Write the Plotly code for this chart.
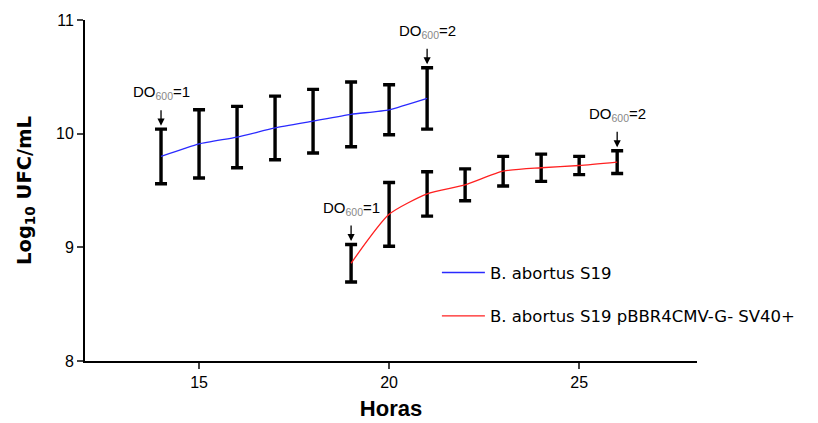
import plotly.graph_objects as go

hours_s19 = [14, 15, 16, 17, 18, 19, 20, 21]
mean_s19 = [9.80, 9.91, 9.97, 10.05, 10.11, 10.17, 10.21, 10.31]
err_s19 = [0.24, 0.30, 0.27, 0.28, 0.28, 0.285, 0.22, 0.27]

hours_rec = [19, 20, 21, 22, 23, 24, 25, 26]
mean_rec = [8.86, 9.29, 9.47, 9.55, 9.67, 9.70, 9.72, 9.75]
err_rec = [0.165, 0.28, 0.195, 0.14, 0.13, 0.12, 0.08, 0.10]

name_s19 = "B. abortus S19"
name_rec = "B. abortus S19 pBBR4CMV-G- SV40+"

# DO600 marks: (series key, point index, label)
marks = [("s19", 0, "1"), ("s19", 7, "2"), ("rec", 0, "1"), ("rec", 7, "2")]

FONT = "Liberation Sans, Arial, sans-serif"
WIDE = "DejaVu Sans, sans-serif"

fig = go.Figure()
fig.add_trace(go.Scatter(
    x=hours_s19, y=mean_s19, mode="lines", name=name_s19,
    line=dict(color="#2a2aff", width=1.3, shape="spline", smoothing=0.5),
    error_y=dict(type="data", array=err_s19, color="black", thickness=3.4, width=6),
    legendgroup="a",
))
fig.add_trace(go.Scatter(
    x=hours_rec, y=mean_rec, mode="lines", name=name_rec,
    line=dict(color="#ff2020", width=1.3, shape="spline", smoothing=0.6),
    error_y=dict(type="data", array=err_rec, color="black", thickness=3.4, width=6),
    legendgroup="b",
))

annos = []
data = {"s19": (hours_s19, mean_s19, err_s19), "rec": (hours_rec, mean_rec, err_rec)}
for key, i, lab in marks:
    xs, ms, es = data[key]
    top = ms[i] + es[i] + 0.03
    annos.append(dict(
        x=xs[i], y=top, xref="x", yref="y", text="", showarrow=True,
        arrowhead=2, arrowsize=1.1, arrowwidth=1.3, arrowcolor="black",
        ax=0, ay=-17, standoff=0,
    ))
    annos.append(dict(
        x=xs[i], y=top, xref="x", yref="y", showarrow=False, yshift=33,
        text="DO<sub><span style='color:#888'>600</span></sub>=" + lab,
        font=dict(family=FONT, size=15, color="black"),
    ))

fig.update_layout(
    width=818, height=423,
    margin=dict(l=77, r=129, t=12, b=70),
    paper_bgcolor="white", plot_bgcolor="white",
    font=dict(family=FONT, size=15, color="black"),
    showlegend=True,
    legend=dict(x=0.575, y=0.31, xanchor="left", yanchor="top",
                font=dict(family=WIDE, size=16.5, color="black"),
                tracegroupgap=19, itemwidth=43, bgcolor="rgba(0,0,0,0)"),
    annotations=annos,
    xaxis=dict(range=[12, 28.1], tickvals=[15, 20, 25], ticks="outside", ticklen=6,
               tickwidth=1.5, showline=True, linecolor="black", linewidth=2,
               showgrid=False, zeroline=False, automargin=False,
               title=dict(text="<b>Horas</b>", font=dict(family=FONT, size=22), standoff=10),
               tickfont=dict(family=FONT, size=16)),
    yaxis=dict(range=[8, 11], tickvals=[8, 9, 10, 11], ticks="outside", ticklen=6,
               tickwidth=1.5, showline=True, linecolor="black", linewidth=2,
               showgrid=False, zeroline=False, automargin=False,
               title=dict(text="<b>Log<sub>10</sub> UFC/mL</b>", font=dict(family=WIDE, size=19.5), standoff=19),
               tickfont=dict(family=FONT, size=16)),
)

fig.write_html("out.html")
